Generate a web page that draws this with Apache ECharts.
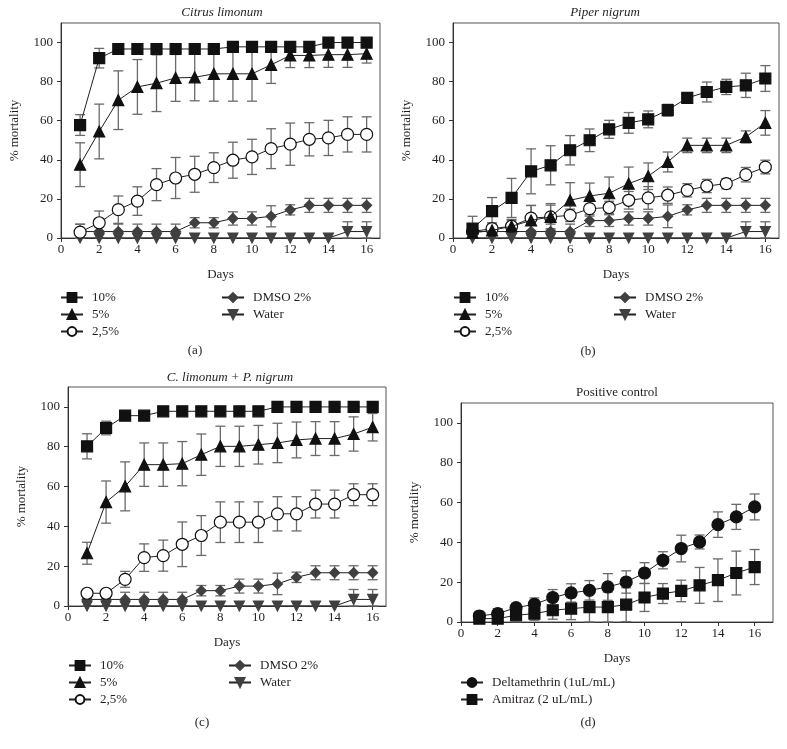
<!DOCTYPE html>
<html><head><meta charset="utf-8">
<script src="https://cdn.jsdelivr.net/npm/echarts@6/dist/echarts.min.js"></script>
<style>html,body{margin:0;padding:0;background:#fff}#c{width:787px;height:749px}</style>
</head><body><div id="c"></div>
<script>
// ---------- data ----------
const days = [1,2,3,4,5,6,7,8,9,10,11,12,13,14,15,16];
const xTicks = [0,2,4,6,8,10,12,14,16];
const yTicks = [0,20,40,60,80,100];

// (a) Citrus limonum
const a10   = [57.8,92.0,96.7,96.7,96.7,96.7,96.7,96.7,97.8,97.8,97.8,97.8,97.8,100,100,100];
const a10E  = [5.3,5.0,0,0,0,0,0,0,0,0,0,0,0,0,0,0];
const a5    = [37.5,54.5,70.5,77.3,79.2,81.9,82.2,84.0,84.0,84.0,88.6,93.4,93.4,93.8,93.8,94.3];
const a5E   = [11.2,14.0,15.0,14.0,14.5,12.0,12.0,14.0,14.0,14.0,9.5,6.2,6.2,6.5,6.5,4.8];
const a25   = [3.0,7.8,14.5,18.9,27.3,30.7,32.6,36.0,39.8,41.5,45.7,48.0,50.5,51.2,53.0,53.0];
const a25E  = [4.0,6.0,7.0,7.3,8.2,10.5,9.2,7.6,9.2,9.0,10.2,10.8,8.5,9.0,9.0,9.0];
const aDm   = [3.3,3.3,3.3,3.3,3.3,3.3,7.8,7.8,10.0,10.0,11.1,14.4,16.7,16.7,16.7,16.7];
const aDmE  = [3.8,3.8,3.8,3.8,3.8,3.8,2.6,2.6,3.4,3.4,5.4,2.6,3.6,3.6,3.6,3.6];
const aW    = [0,0,0,0,0,0,0,0,0,0,0,0,0,0,3.3,3.3];
const aWE   = [0,0,0,0,0,0,0,0,0,0,0,0,0,0,5.0,5.0];

// (b) Piper nigrum
const b10   = [4.8,13.7,20.5,34.1,37.2,44.9,50.0,55.6,58.9,60.7,65.4,71.7,74.7,77.3,78.1,81.6];
const b10E  = [6.3,7.0,10.0,11.5,10.0,7.5,5.8,4.6,5.3,4.3,3.0,1.5,5.1,3.9,6.2,6.6];
const b5    = [2.6,3.9,6.0,9.0,10.8,19.3,21.5,22.9,27.8,31.6,38.9,47.4,47.4,47.4,51.7,58.9];
const b5E   = [2.0,2.0,3.0,7.7,6.8,9.0,6.6,8.3,8.5,6.8,5.1,3.7,3.7,3.7,3.1,6.3];
const b25   = [3.3,4.8,6.0,10.2,10.8,11.6,15.0,15.6,19.3,20.5,21.9,24.4,26.6,27.8,32.4,36.3];
const b25E  = [3.0,3.0,3.5,6.4,6.0,3.2,3.8,3.2,4.5,5.8,4.2,3.4,3.4,2.6,3.7,3.5];
const bDm   = [3.3,3.3,3.3,3.3,3.3,3.3,8.9,8.9,10.0,10.0,11.1,14.4,16.7,16.7,16.7,16.7];
const bDmE  = [3.8,3.8,3.8,3.8,3.8,3.8,3.0,3.0,3.4,3.4,5.8,2.6,3.6,3.6,3.6,3.6];
const bW    = [0,0,0,0,0,0,0,0,0,0,0,0,0,0,3.3,3.3];
const bWE   = [0,0,0,0,0,0,0,0,0,0,0,0,0,0,5.0,5.0];

// (c) C. limonum + P. nigrum
const c10   = [80.2,89.4,95.6,95.6,97.8,97.8,97.8,97.8,97.8,97.8,100,100,100,100,100,100];
const c10E  = [6.3,3.4,0,0,0,0,0,0,0,0,0,0,0,0,0,0];
const c5    = [26.5,52.2,60.1,71.0,71.0,71.5,76.0,80.2,80.2,81.0,81.9,83.4,84.1,84.1,86.4,89.8];
const c5E   = [5.5,10.6,12.3,10.9,10.9,11.1,10.4,10.1,10.1,9.7,9.9,9.0,8.5,8.5,8.6,6.9];
const c25   = [6.4,6.4,13.4,24.3,25.3,31.0,35.4,42.1,42.1,42.1,46.3,46.3,51.2,51.2,55.9,55.9];
const c25E  = [0,0,4.0,6.9,7.8,11.2,10.0,10.2,10.2,10.2,8.6,8.6,7.0,7.0,5.5,5.5];
const cDm   = [3.3,3.3,3.3,3.3,3.3,3.3,7.7,7.7,10.0,10.0,11.1,14.4,16.7,16.7,16.7,16.7];
const cDmE  = [3.6,3.6,3.6,3.6,3.6,3.6,2.6,2.6,3.5,3.5,5.4,2.6,3.5,3.5,3.5,3.5];
const cW    = [0,0,0,0,0,0,0,0,0,0,0,0,0,0,3.3,3.3];
const cWE   = [0,0,0,0,0,0,0,0,0,0,0,0,0,0,5.0,5.0];

// (d) Positive control
const dDel  = [3.0,4.2,7.2,8.9,12.3,14.6,15.9,17.6,20.1,24.6,31.0,36.9,40.2,48.9,52.8,57.8];
const dDelE = [2.4,2.5,2.1,3.2,4.0,4.6,4.9,6.7,5.6,5.2,4.3,6.7,3.5,6.4,6.3,6.5];
const dAmi  = [1.7,1.7,3.4,4.2,5.9,6.7,7.5,7.5,8.7,12.3,14.3,15.6,18.4,21.0,24.6,27.6];
const dAmiE = [1.5,2.5,3.3,3.3,4.5,5.5,7.5,7.5,8.5,7.0,5.0,5.4,9.0,10.7,11.0,8.8];

const panelTitles = ['Citrus limonum','Piper nigrum','C. limonum + P. nigrum','Positive control'];
const panelTags = ['(a)','(b)','(c)','(d)'];
const concNames = ['10%','5%','2,5%'];
const ctrlNames = ['DMSO 2%','Water'];
const pcNames = ['Deltamethrin (1uL/mL)','Amitraz (2 uL/mL)'];

// ---------- styling ----------
const FONT = '"Liberation Serif","DejaVu Serif",serif';
const TXT = '#231f20';
const GREY = '#404040';
const STY = {
  sq:   {symbol:'rect', size:11, color:'#111', border:'#111'},
  tri:  {symbol:'triangle', size:11, color:'#111', border:'#111'},
  circ: {symbol:'circle', size:12, color:'#fff', border:'#111'},
  dia:  {symbol:'diamond', size:10, color:GREY, border:GREY},
  inv:  {symbol:'triangle', size:10, color:GREY, border:GREY, rotate:180},
  dot:  {symbol:'circle', size:12, color:'#111', border:'#111'}
};

const grids = [
  {left:61, top:23, width:319, height:215},
  {left:453, top:23, width:326, height:215},
  {left:68, top:387, width:318, height:219},
  {left:461, top:403, width:312, height:219}
];
const xMaxes = [16.7,16.7,16.7,17.0];

const panels = [
  [['Water',aW,aWE,'inv'],['DMSO 2%',aDm,aDmE,'dia'],['2,5%',a25,a25E,'circ'],['5%',a5,a5E,'tri'],['10%',a10,a10E,'sq']],
  [['Water',bW,bWE,'inv'],['DMSO 2%',bDm,bDmE,'dia'],['2,5%',b25,b25E,'circ'],['5%',b5,b5E,'tri'],['10%',b10,b10E,'sq']],
  [['Water',cW,cWE,'inv'],['DMSO 2%',cDm,cDmE,'dia'],['2,5%',c25,c25E,'circ'],['5%',c5,c5E,'tri'],['10%',c10,c10E,'sq']],
  [['Amitraz (2 uL/mL)',dAmi,dAmiE,'sq'],['Deltamethrin (1uL/mL)',dDel,dDelE,'dot']]
];

const xAxes = [], yAxes = [], series = [];
grids.forEach((g, i) => {
  g.show = true; g.borderColor = '#555'; g.borderWidth = 1; g.backgroundColor = 'transparent';
  xAxes.push({
    gridIndex:i, type:'value', min:0, max:xMaxes[i],
    name:'Days', nameLocation:'middle', nameGap:30,
    nameTextStyle:{fontFamily:FONT, fontSize:13, color:TXT},
    axisLine:{show:true, onZero:false, lineStyle:{color:'#333', width:1}},
    axisTick:{show:true, length:4, customValues:xTicks, lineStyle:{color:'#333'}},
    axisLabel:{customValues:xTicks, margin:5, fontFamily:FONT, fontSize:13, color:TXT},
    splitLine:{show:false}
  });
  yAxes.push({
    gridIndex:i, type:'value', min:0, max:110,
    name:'% mortality', nameLocation:'middle', nameGap:40, nameRotate:90,
    nameTextStyle:{fontFamily:FONT, fontSize:13, color:TXT},
    axisLine:{show:true, lineStyle:{color:'#333', width:1}},
    axisTick:{show:true, length:4, customValues:yTicks, lineStyle:{color:'#333'}},
    axisLabel:{customValues:yTicks, margin:8, fontFamily:FONT, fontSize:13, color:TXT},
    splitLine:{show:false}
  });
  panels[i].forEach(([name, vals, errs, sk], k) => {
    const s = STY[sk];
    series.push({
      type:'custom', name:'err_' + i + '_' + k, xAxisIndex:i, yAxisIndex:i, z:1,
      silent:true,
      data: days.map((d, j) => [d, vals[j], errs[j]]),
      encode:{x:0, y:1},
      renderItem:(params, api) => {
        const x = api.value(0), y = api.value(1), e = api.value(2);
        if (!e) return;
        const lo = Math.max(0, y - e), hi = y + e;
        const p1 = api.coord([x, hi]), p0 = api.coord([x, lo]);
        const cw = 5;
        const st = {stroke:'#6a6a6a', lineWidth:1.3};
        return {type:'group', children:[
          {type:'line', shape:{x1:p1[0], y1:p1[1], x2:p0[0], y2:p0[1]}, style:st},
          {type:'line', shape:{x1:p1[0]-cw, y1:p1[1], x2:p1[0]+cw, y2:p1[1]}, style:st},
          {type:'line', shape:{x1:p0[0]-cw, y1:p0[1], x2:p0[0]+cw, y2:p0[1]}, style:st}
        ]};
      }
    });
    series.push({
      type:'line', name:name, xAxisIndex:i, yAxisIndex:i, z:2 + k,
      data: days.map((d, j) => [d, vals[j]]),
      symbol:s.symbol, symbolSize:s.size, symbolRotate:s.rotate || 0,
      showAllSymbol:true, animation:false,
      lineStyle:{color:TXT, width:1},
      itemStyle:{color:s.color, borderColor:s.border, borderWidth:1.2},
      emphasis:{disabled:true}
    });
  });
});

const legBase = {
  orient:'vertical', padding:0, itemWidth:22, itemHeight:11, itemGap:4, selectedMode:false,
  textStyle:{fontFamily:FONT, fontSize:13, color:TXT, padding:[0,0,0,4]}
};
const legends = [
  Object.assign({}, legBase, {data:concNames, left:60, top:291}),
  Object.assign({}, legBase, {data:ctrlNames, left:221, top:291}),
  Object.assign({}, legBase, {data:concNames, left:453, top:291}),
  Object.assign({}, legBase, {data:ctrlNames, left:613, top:291}),
  Object.assign({}, legBase, {data:concNames, left:68, top:659}),
  Object.assign({}, legBase, {data:ctrlNames, left:228, top:659}),
  Object.assign({}, legBase, {data:pcNames, left:460, top:676})
];

const titlePos = [[222,13,true],[605,13,true],[230,378,true],[617,393,false]];
const tagPos = [[195,351],[588,352],[202,723],[588,723]];
const graphic = [];
titlePos.forEach(([x,y,it], i) => graphic.push({type:'text', x, y, style:{
  text:panelTitles[i], font:(it ? 'italic ' : '') + '13px ' + FONT, fill:TXT, textAlign:'center', textVerticalAlign:'middle'}}));
tagPos.forEach(([x,y], i) => graphic.push({type:'text', x, y, style:{
  text:panelTags[i], font:'13px ' + FONT, fill:TXT, textAlign:'center', textVerticalAlign:'middle'}}));

const chart = echarts.init(document.getElementById('c'));
chart.setOption({
  backgroundColor:'#fff', animation:false,
  grid:grids, xAxis:xAxes, yAxis:yAxes, series:series, legend:legends, graphic:graphic
});
</script>
</body></html>
